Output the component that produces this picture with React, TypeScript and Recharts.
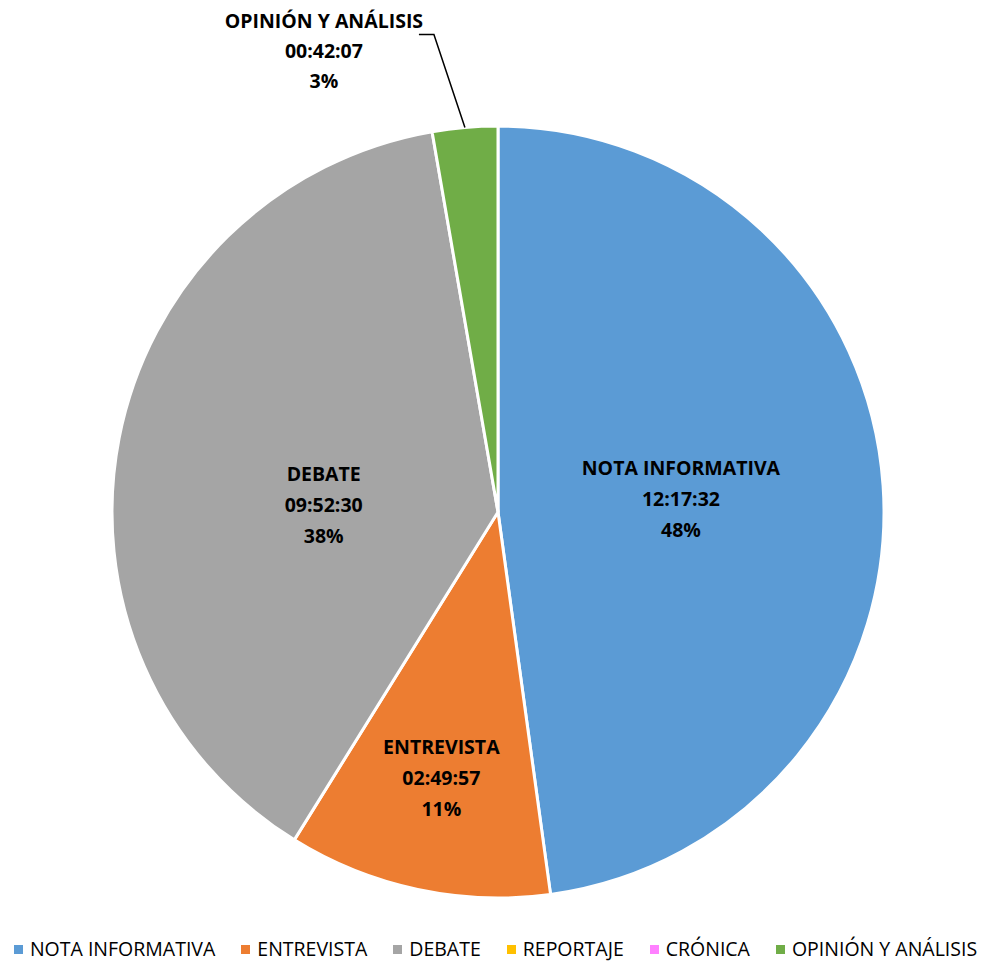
import React from 'react';
import { PieChart, Pie, Cell } from 'recharts';

const categories = ['NOTA INFORMATIVA', 'ENTREVISTA', 'DEBATE', 'REPORTAJE', 'CRÓNICA', 'OPINIÓN Y ANÁLISIS'];
const durations = ['12:17:32', '02:49:57', '09:52:30', '00:00:00', '00:00:00', '00:42:07'];
const COLORS = ['#5B9BD5', '#ED7D31', '#A5A5A5', '#FFC000', '#FF80FF', '#70AD47'];

const toSeconds = (t: string) => {
	const [h, m, s] = t.split(':').map(Number);
	return h * 3600 + m * 60 + s;
};

const data = categories.map((name, i) => ({
	name,
	time: durations[i],
	value: toSeconds(durations[i]),
}));

const FONT = '"Open Sans", sans-serif';
const LABEL_SIZE = 19.5;
const RADIAN = Math.PI / 180;
// where each inside label sits: share of the radius, plus a vertical nudge
const LABEL_R = [0.475, 0.705, 0.46, 0, 0, 0];
const LABEL_DY = [0, 0, 27, 0, 0, 0];

const renderLabel = (props: any) => {
	const { cx, cy, midAngle, outerRadius, percent, index, value } = props;
	if (!value) return null;
	const item = data[index];
	const pct = `${Math.round(percent * 100)}%`;
	const ang = -midAngle * RADIAN;
	if (index === 5) {
		// outside label with leader line
		const ex = cx + outerRadius * Math.cos(ang);
		const ey = cy + outerRadius * Math.sin(ang);
		const bx = ex - 31;
		const by = ey - 93;
		const tx = bx - 110;
		return (
			<g>
				<polyline
					points={`${ex},${ey} ${bx},${by} ${bx - 15},${by}`}
					fill="none"
					stroke="#000"
					strokeWidth={1.5}
				/>
				<text x={tx} y={by - 6} textAnchor="middle" fontFamily={FONT} fontWeight="bold" fontSize={LABEL_SIZE} fill="#000">
					<tspan x={tx}>{item.name}</tspan>
					<tspan x={tx} dy={30}>{item.time}</tspan>
					<tspan x={tx} dy={30}>{pct}</tspan>
				</text>
			</g>
		);
	}
	const r = outerRadius * LABEL_R[index];
	const x = cx + r * Math.cos(ang);
	const y = cy + r * Math.sin(ang) + LABEL_DY[index];
	return (
		<text x={x} y={y - 24} textAnchor="middle" fontFamily={FONT} fontWeight="bold" fontSize={LABEL_SIZE} fill="#000">
			<tspan x={x}>{item.name}</tspan>
			<tspan x={x} dy={31}>{item.time}</tspan>
			<tspan x={x} dy={31}>{pct}</tspan>
		</text>
	);
};

const Legend = () => (
	<div
		style={{
			position: 'absolute',
			left: 0,
			top: 936,
			width: 991,
			height: 26,
			lineHeight: '26px',
			display: 'flex',
			justifyContent: 'center',
			fontFamily: FONT,
			fontSize: 19.5,
			color: '#000',
			whiteSpace: 'nowrap',
		}}
	>
		{categories.map((c, i) => (
			<span key={c} style={{ display: 'inline-flex', alignItems: 'center', marginRight: i < categories.length - 1 ? 26 : 0 }}>
				<span style={{ width: 9, height: 9, background: COLORS[i], display: 'inline-block', marginRight: 7 }} />
				{c}
			</span>
		))}
	</div>
);

export default function App() {
	return (
		<div style={{ position: 'absolute', left: 0, top: 0, width: 991, height: 963, background: '#fff' }}>
			<PieChart width={991} height={963}>
				<Pie
					data={data}
					dataKey="value"
					cx={493}
					cy={507}
					outerRadius={386}
					startAngle={90}
					endAngle={-270}
					stroke="#fff"
					strokeWidth={3}
					label={renderLabel}
					labelLine={false}
					isAnimationActive={false}
				>
					{data.map((_e, i) => (
						<Cell key={`cell-${i}`} fill={COLORS[i]} />
					))}
				</Pie>
			</PieChart>
			<Legend />
		</div>
	);
}
